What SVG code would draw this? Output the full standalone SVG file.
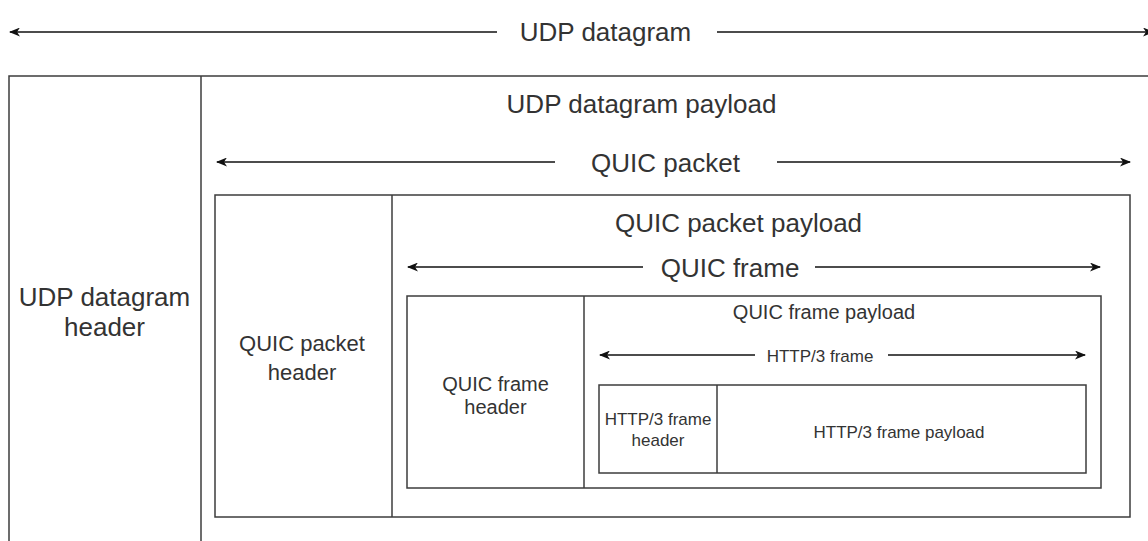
<svg xmlns="http://www.w3.org/2000/svg" width="1148" height="541" viewBox="0 0 1148 541">
<style>
.box{fill:none;stroke:#3c3c3c;stroke-width:1.5}
.div{stroke:#3c3c3c;stroke-width:1.5}
.arr{stroke:#111;stroke-width:1.5;fill:none}
text{font-family:"Liberation Sans",Arial,sans-serif;fill:#333;text-anchor:middle}
</style>
<defs>
<marker id="ah" viewBox="0 0 11 9" refX="10" refY="4.5" markerWidth="11" markerHeight="9" markerUnits="userSpaceOnUse" orient="auto-start-reverse">
<path d="M0,0 L11,4.5 L0,9 L3,4.5 z" fill="#111"/>
</marker>
</defs>
<rect width="1148" height="541" fill="#fff"/>
<g id="udp-datagram">
<rect class="box" x="9" y="76" width="1200" height="520"/>
<line class="div" x1="201" y1="76" x2="201" y2="541"/>
<text x="104.5" y="306" font-size="26">UDP datagram</text>
<text x="104.5" y="336" font-size="26">header</text>
<text x="641.5" y="113" font-size="26">UDP datagram payload</text>
</g>
<g id="quic-packet">
<rect class="box" x="215" y="195" width="915" height="322"/>
<line class="div" x1="392" y1="195" x2="392" y2="517"/>
<text x="302" y="351" font-size="22">QUIC packet</text>
<text x="302" y="380" font-size="22">header</text>
<text x="738.5" y="232" font-size="26">QUIC packet payload</text>
</g>
<g id="quic-frame">
<rect class="box" x="407" y="296" width="694" height="192"/>
<line class="div" x1="584" y1="296" x2="584" y2="488"/>
<text x="495.5" y="391" font-size="20">QUIC frame</text>
<text x="495.5" y="414" font-size="20">header</text>
<text x="824" y="319" font-size="20">QUIC frame payload</text>
</g>
<g id="http3-frame">
<rect class="box" x="599" y="385" width="487" height="88"/>
<line class="div" x1="717" y1="385" x2="717" y2="473"/>
<text x="658" y="425" font-size="17">HTTP/3 frame</text>
<text x="658" y="446" font-size="17">header</text>
<text x="899" y="438" font-size="17">HTTP/3 frame payload</text>
</g>
<g id="connectors">
<line class="arr" x1="497" y1="32" x2="10" y2="32" marker-end="url(#ah)"/>
<line class="arr" x1="717" y1="32" x2="1153" y2="32" marker-end="url(#ah)"/>
<line class="arr" x1="555" y1="162" x2="217" y2="162" marker-end="url(#ah)"/>
<line class="arr" x1="777" y1="162" x2="1130" y2="162" marker-end="url(#ah)"/>
<line class="arr" x1="643" y1="267" x2="408" y2="267" marker-end="url(#ah)"/>
<line class="arr" x1="815" y1="267" x2="1100" y2="267" marker-end="url(#ah)"/>
<line class="arr" x1="755" y1="355" x2="600" y2="355" marker-end="url(#ah)"/>
<line class="arr" x1="888" y1="355" x2="1085" y2="355" marker-end="url(#ah)"/>
</g>
<g id="arrow-labels">
<text x="605.5" y="41" font-size="26">UDP datagram</text>
<text x="665.5" y="172" font-size="26">QUIC packet</text>
<text x="730" y="277" font-size="26">QUIC frame</text>
<text x="820" y="362" font-size="17">HTTP/3 frame</text>
</g>
</svg>
